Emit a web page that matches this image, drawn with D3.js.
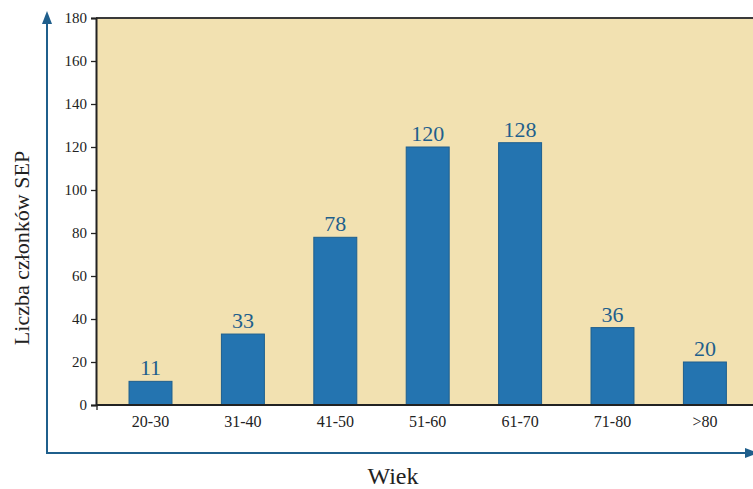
<!DOCTYPE html>
<html><head><meta charset="utf-8">
<script src="https://cdn.jsdelivr.net/npm/d3@7"></script>
<style>body{margin:0;background:#fff}svg{display:block}</style>
</head><body>
<svg id="c" width="753" height="489"></svg>
<script>
const categories = ["20-30","31-40","41-50","51-60","61-70","71-80",">80"];
const barValues = [11,33,78,120,122,36,20];
const labelValues = ["11","33","78","120","128","36","20"];
const yTicks = [0,20,40,60,80,100,120,140,160,180];

(function(){
const svg = d3.select("#c");
const pL = 96, pR = 753, pT = 18, pB = 405;
const serif = "'Liberation Serif', 'DejaVu Serif', serif";
const blue = "#1f5f8c";

const y = d3.scaleLinear().domain([0,180]).range([pB, pT]);
const x = d3.scaleBand().domain(categories).range([104.3, 751.1]).paddingInner(0.535).paddingOuter(0.2675);

svg.append("rect").attr("x", pL).attr("y", pT).attr("width", pR-pL).attr("height", pB-pT).attr("fill", "#f2e1b1");

svg.selectAll("rect.bar").data(categories).enter().append("rect").attr("class","bar")
  .attr("x", d => x(d)).attr("width", x.bandwidth())
  .attr("y", (d,i) => y(barValues[i])).attr("height", (d,i) => pB - y(barValues[i]))
  .attr("fill", "#2474b0").attr("stroke", "#1e5f8e").attr("stroke-width", 1);

svg.selectAll("text.val").data(categories).enter().append("text").attr("class","val")
  .attr("x", d => x(d) + x.bandwidth()/2).attr("y", (d,i) => y(barValues[i]) - 6)
  .attr("text-anchor","middle").attr("font-family", serif).attr("font-size", 22).attr("fill", blue)
  .text((d,i) => labelValues[i]);

svg.append("line").attr("x1", pL).attr("x2", pR).attr("y1", pT).attr("y2", pT).attr("stroke", "#3a3a3a").attr("stroke-width", 2);

const ya = svg.append("g").attr("transform", `translate(${pL},0)`)
  .call(d3.axisLeft(y).tickValues(yTicks).tickSize(5).tickPadding(4));
ya.select(".domain").attr("stroke", "#222").attr("stroke-width", 2);
ya.selectAll(".tick line").attr("stroke", "#222").attr("stroke-width", 1.3);
ya.selectAll("text").attr("font-family", serif).attr("font-size", 15).attr("fill", "#222");

const xa = svg.append("g").attr("transform", `translate(0,${pB})`)
  .call(d3.axisBottom(x).tickSize(0).tickPadding(11));
xa.select(".domain").remove();
xa.selectAll("text").attr("font-family", serif).attr("font-size", 16).attr("fill", "#222");
svg.append("line").attr("x1", pL).attr("x2", pR).attr("y1", pB).attr("y2", pB).attr("stroke", "#222").attr("stroke-width", 2);
svg.append("line").attr("x1", pL+1).attr("x2", pL+1).attr("y1", pB).attr("y2", pB+5).attr("stroke", "#222").attr("stroke-width", 1.3);

const ax = 47, ay = 453;
svg.append("line").attr("x1", ax).attr("x2", ax).attr("y1", ay).attr("y2", 20).attr("stroke", blue).attr("stroke-width", 2);
svg.append("path").attr("d", `M${ax},11 L${ax-5},24 L${ax+5},24 Z`).attr("fill", blue);
svg.append("line").attr("x1", ax-1).attr("x2", 748).attr("y1", ay).attr("y2", ay).attr("stroke", blue).attr("stroke-width", 2);
svg.append("path").attr("d", `M758,${ay} L745,${ay-5} L745,${ay+5} Z`).attr("fill", blue);

svg.append("text").attr("transform", "translate(29,248) rotate(-90)").attr("text-anchor","middle")
  .attr("font-family", serif).attr("font-size", 22).attr("fill", "#222").text("Liczba członków SEP");
svg.append("text").attr("x", 393).attr("y", 484).attr("text-anchor","middle")
  .attr("font-family", serif).attr("font-size", 24).attr("fill", "#222").text("Wiek");
})();
</script>
</body></html>
